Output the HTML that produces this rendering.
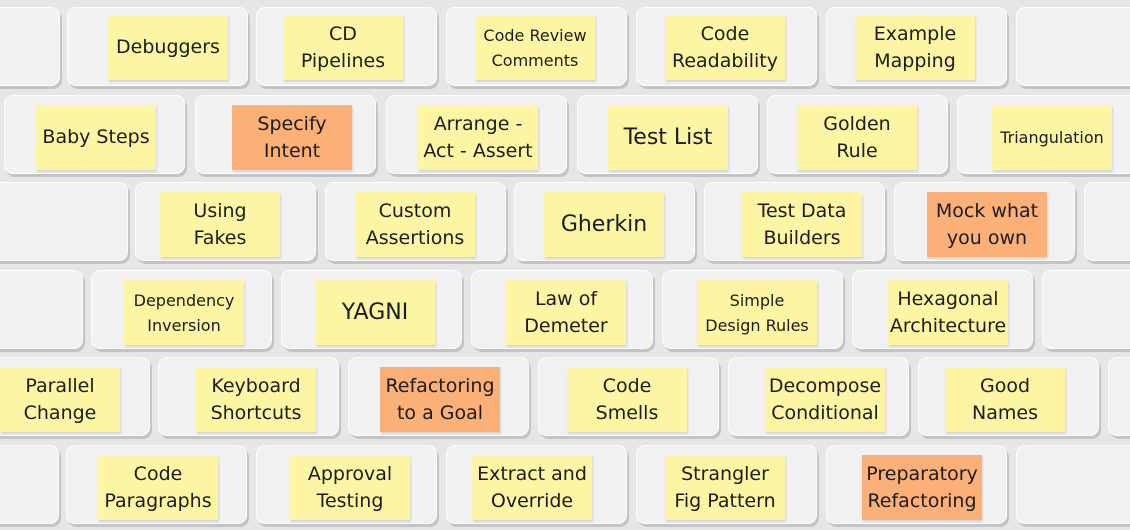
<!DOCTYPE html>
<html><head><meta charset="utf-8"><style>
body{margin:0;width:1130px;height:530px;background:#e6e6e6;position:relative;overflow:hidden;font-family:"DejaVu Sans","Liberation Sans",sans-serif;}
.k{position:absolute;height:79px;background:#f1f1f1;border:1px solid #fdfdfd;border-radius:9px;box-shadow:2px 3px 0 #c4c4c4;box-sizing:border-box;}
.n{position:absolute;width:120px;height:65px;background:#fcf5a4;display:flex;align-items:center;justify-content:center;text-align:center;font-size:19px;line-height:27px;color:#1c1c1c;box-shadow:1px 2px 2px rgba(0,0,0,.12);white-space:nowrap;}
.o{background:#fbb078;}
.s{font-size:16px;line-height:25px;}
.b{font-size:22px;}
</style></head><body>
<div class="k" style="left:-10px;top:7px;width:70px"></div>
<div class="k" style="left:67px;top:7px;width:181px"></div>
<div class="k" style="left:256px;top:7px;width:181px"></div>
<div class="k" style="left:446px;top:7px;width:181px"></div>
<div class="k" style="left:636px;top:7px;width:181px"></div>
<div class="k" style="left:826px;top:7px;width:181px"></div>
<div class="k" style="left:1016px;top:7px;width:181px"></div>
<div class="k" style="left:4px;top:95px;width:181px"></div>
<div class="k" style="left:195px;top:95px;width:181px"></div>
<div class="k" style="left:386px;top:95px;width:181px"></div>
<div class="k" style="left:577px;top:95px;width:181px"></div>
<div class="k" style="left:767px;top:95px;width:181px"></div>
<div class="k" style="left:957px;top:95px;width:181px"></div>
<div class="k" style="left:-55px;top:182px;width:183px"></div>
<div class="k" style="left:135px;top:182px;width:181px"></div>
<div class="k" style="left:325px;top:182px;width:181px"></div>
<div class="k" style="left:514px;top:182px;width:181px"></div>
<div class="k" style="left:704px;top:182px;width:181px"></div>
<div class="k" style="left:894px;top:182px;width:181px"></div>
<div class="k" style="left:1084px;top:182px;width:181px"></div>
<div class="k" style="left:-100px;top:270px;width:183px"></div>
<div class="k" style="left:91px;top:270px;width:181px"></div>
<div class="k" style="left:281px;top:270px;width:181px"></div>
<div class="k" style="left:471px;top:270px;width:182px"></div>
<div class="k" style="left:662px;top:270px;width:181px"></div>
<div class="k" style="left:852px;top:270px;width:181px"></div>
<div class="k" style="left:1042px;top:270px;width:181px"></div>
<div class="k" style="left:-32px;top:357px;width:182px"></div>
<div class="k" style="left:158px;top:357px;width:181px"></div>
<div class="k" style="left:348px;top:357px;width:181px"></div>
<div class="k" style="left:538px;top:357px;width:181px"></div>
<div class="k" style="left:728px;top:357px;width:181px"></div>
<div class="k" style="left:918px;top:357px;width:181px"></div>
<div class="k" style="left:1108px;top:357px;width:181px"></div>
<div class="k" style="left:-122px;top:445px;width:181px"></div>
<div class="k" style="left:66px;top:445px;width:181px"></div>
<div class="k" style="left:256px;top:445px;width:181px"></div>
<div class="k" style="left:446px;top:445px;width:181px"></div>
<div class="k" style="left:636px;top:445px;width:181px"></div>
<div class="k" style="left:826px;top:445px;width:181px"></div>
<div class="k" style="left:1016px;top:445px;width:181px"></div>

<div class="n" style="left:108px;top:15px">Debuggers</div>
<div class="n" style="left:283px;top:15px">CD<br>Pipelines</div>
<div class="n s" style="left:475px;top:15px">Code Review<br>Comments</div>
<div class="n" style="left:665px;top:15px">Code<br>Readability</div>
<div class="n" style="left:855px;top:15px">Example<br>Mapping</div>
<div class="n" style="left:36px;top:105px">Baby Steps</div>
<div class="n o" style="left:232px;top:105px">Specify<br>Intent</div>
<div class="n" style="left:418px;top:105px">Arrange -<br>Act - Assert</div>
<div class="n b" style="left:608px;top:105px">Test List</div>
<div class="n" style="left:797px;top:105px">Golden<br>Rule</div>
<div class="n s" style="left:992px;top:105px">Triangulation</div>
<div class="n" style="left:160px;top:192px">Using<br>Fakes</div>
<div class="n" style="left:355px;top:192px">Custom<br>Assertions</div>
<div class="n b" style="left:544px;top:192px">Gherkin</div>
<div class="n" style="left:742px;top:192px">Test Data<br>Builders</div>
<div class="n o" style="left:927px;top:192px">Mock what<br>you own</div>
<div class="n s" style="left:124px;top:280px">Dependency<br>Inversion</div>
<div class="n b" style="left:315px;top:280px">YAGNI</div>
<div class="n" style="left:506px;top:280px">Law of<br>Demeter</div>
<div class="n s" style="left:697px;top:280px">Simple<br>Design Rules</div>
<div class="n" style="left:888px;top:280px">Hexagonal<br>Architecture</div>
<div class="n" style="left:0px;top:367px">Parallel<br>Change</div>
<div class="n" style="left:196px;top:367px">Keyboard<br>Shortcuts</div>
<div class="n o" style="left:380px;top:367px">Refactoring<br>to a Goal</div>
<div class="n" style="left:567px;top:367px">Code<br>Smells</div>
<div class="n" style="left:765px;top:367px">Decompose<br>Conditional</div>
<div class="n" style="left:945px;top:367px">Good<br>Names</div>
<div class="n" style="left:98px;top:455px">Code<br>Paragraphs</div>
<div class="n" style="left:290px;top:455px">Approval<br>Testing</div>
<div class="n" style="left:472px;top:455px">Extract and<br>Override</div>
<div class="n" style="left:665px;top:455px">Strangler<br>Fig Pattern</div>
<div class="n o" style="left:862px;top:455px">Preparatory<br>Refactoring</div>
</body></html>
